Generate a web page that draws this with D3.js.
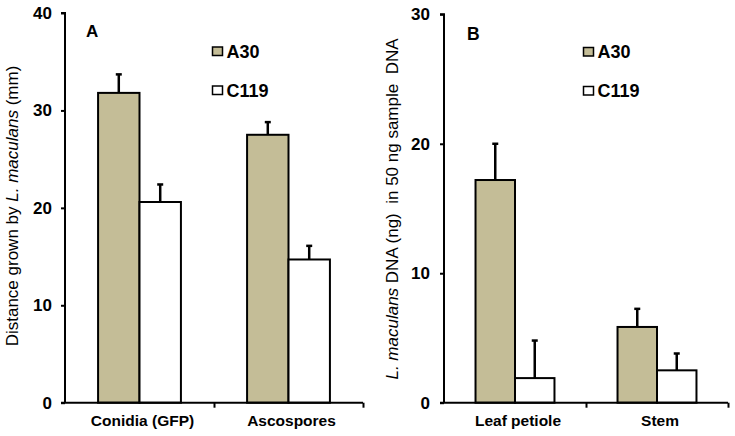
<!DOCTYPE html>
<html><head><meta charset="utf-8">
<script src="https://cdn.jsdelivr.net/npm/d3@7"></script>
<style>
body{margin:0;background:#fff;}
text{font-family:Arial,"Liberation Sans",sans-serif;}
</style></head>
<body><svg id="c" width="735" height="436"></svg>
<script>
const series = ["A30", "C119"];
const colors = ["#C4BD97", "#FFFFFF"];

const catsA = ["Conidia (GFP)", "Ascospores"];
const valsA30_A = [31.8, 27.5];
const errA30_A = [1.9, 1.3];
const valsC119_A = [20.6, 14.7];
const errC119_A = [1.8, 1.4];
const ticksA = [0, 10, 20, 30, 40];

const catsB = ["Leaf petiole", "Stem"];
const valsA30_B = [17.2, 5.85];
const errA30_B = [2.8, 1.4];
const valsC119_B = [1.9, 2.5];
const errC119_B = [2.9, 1.3];
const ticksB = [0, 10, 20, 30];

const svg = d3.select("#c");

function panel(o) {
  const g = svg.append("g");
  const y = d3.scaleLinear().domain([0, o.max]).range([o.y0, o.y1]);
  const x = d3.scaleBand().domain(o.cats).range([o.x0, o.x1]).paddingInner(0).paddingOuter(0);
  const bw = x.bandwidth();
  const xs = d3.scaleBand().domain(series).range([bw * 0.222, bw * 0.778]);

  const data = [];
  o.cats.forEach((c, i) => {
    series.forEach((s, j) => {
      data.push({cat: c, s: s, j: j, v: o.vals[j][i], e: o.errs[j][i]});
    });
  });

  // error bars (drawn first, under bars)
  const eg = g.append("g");
  data.forEach(d => {
    const cx = x(d.cat) + xs(d.s) + xs.bandwidth() / 2;
    eg.append("line").attr("x1", cx).attr("x2", cx)
      .attr("y1", y(d.v)).attr("y2", y(d.v + d.e))
      .attr("stroke", "#000").attr("stroke-width", 2.5);
    eg.append("line").attr("x1", cx - 3).attr("x2", cx + 3)
      .attr("y1", y(d.v + d.e)).attr("y2", y(d.v + d.e))
      .attr("stroke", "#000").attr("stroke-width", 2.5);
  });

  g.append("g").selectAll("rect").data(data).join("rect")
    .attr("x", d => x(d.cat) + xs(d.s))
    .attr("width", xs.bandwidth())
    .attr("y", d => y(d.v))
    .attr("height", d => y(0) - y(d.v))
    .attr("fill", d => colors[d.j])
    .attr("stroke", "#000").attr("stroke-width", 2);

  // y axis
  const ya = g.append("g").attr("transform", `translate(${o.x0},0)`)
    .call(d3.axisLeft(y).tickValues(o.ticks).tickSize(4).tickPadding(o.tp).tickFormat(d3.format("d")));
  ya.select(".domain").attr("stroke-width", 2).attr("d", `M-4,${o.y1}H0V${o.y0}`);
  ya.selectAll(".tick line").attr("stroke-width", 2);
  ya.selectAll(".tick text").attr("font-size", 17).attr("font-weight", "bold")
    .attr("font-family", "Arial, 'Liberation Sans', sans-serif").attr("fill", "#000");

  // x axis
  const bounds = [o.x0, o.x0 + bw, o.x1];
  const xl = d3.scaleLinear().domain([o.x0, o.x1]).range([o.x0, o.x1]);
  const xa = g.append("g").attr("transform", `translate(0,${o.y0})`)
    .call(d3.axisBottom(xl).tickValues(bounds.slice(1)).tickSize(5).tickFormat(""));
  xa.select(".domain").attr("stroke-width", 2).attr("d", `M${o.x0 - 4},0H${o.x1}`);
  xa.selectAll(".tick line").attr("stroke-width", 2);

  g.append("g").selectAll("text").data(o.cats).join("text")
    .attr("x", d => x(d) + bw / 2 + 3)
    .attr("y", o.y0 + 23)
    .attr("text-anchor", "middle")
    .attr("font-size", 15.5).attr("font-weight", "bold")
    .text(d => d);

  // panel letter
  g.append("text").attr("x", o.lx).attr("y", o.ly).attr("font-size", o.lfs).attr("font-weight", "bold").text(o.letter);

  // legend
  series.forEach((s, j) => {
    const ly = o.legY + j * 39;
    g.append("rect").attr("x", o.legX).attr("y", ly).attr("width", 10).attr("height", 8.5)
      .attr("fill", colors[j]).attr("stroke", "#000").attr("stroke-width", 1.5);
    g.append("text").attr("x", o.legX + 14).attr("y", ly + 10.5)
      .attr("font-size", 18).attr("font-weight", "bold").text(s);
  });

  // y title
  const t = g.append("text").attr("transform", `translate(${o.tx},${o.ty}) rotate(-90)`)
    .attr("text-anchor", "middle").attr("font-size", 17).style("white-space", "pre");
  o.title.forEach(p => {
    t.append("tspan").attr("font-style", p.i ? "italic" : "normal").text(p.t);
  });
}

panel({
  cats: catsA, vals: [valsA30_A, valsC119_A], errs: [errA30_A, errC119_A],
  max: 40, ticks: ticksA, y0: 402.7, y1: 13, x0: 65, x1: 363, tp: 9,
  letter: "A", lx: 86, ly: 37, lfs: 17, legX: 212.5, legY: 47,
  tx: 18, ty: 206,
  title: [{t: "Distance grown by "}, {t: "L. maculans", i: true}, {t: " (mm)"}]
});

panel({
  cats: catsB, vals: [valsA30_B, valsC119_B], errs: [errA30_B, errC119_B],
  max: 30, ticks: ticksB, y0: 402.7, y1: 14.3, x0: 444, x1: 728, tp: 10,
  letter: "B", lx: 467, ly: 40, lfs: 17.5, legX: 583.5, legY: 47.5,
  tx: 398, ty: 209,
  title: [{t: "L. maculans", i: true}, {t: " DNA (ng)  in 50 ng sample  DNA"}]
});
</script></body></html>
